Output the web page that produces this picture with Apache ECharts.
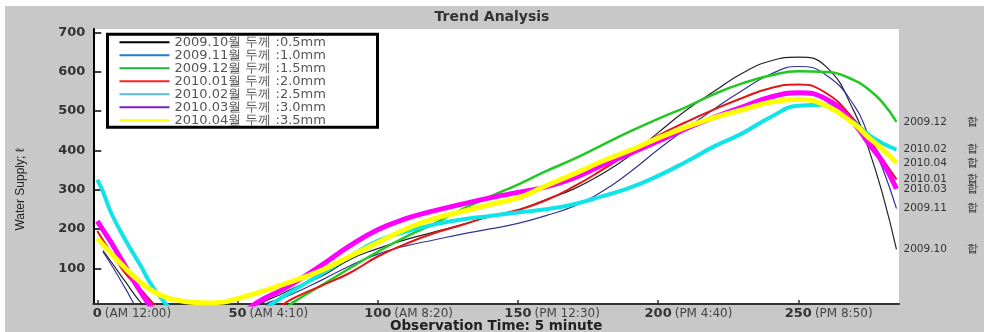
<!DOCTYPE html>
<html><head><meta charset="utf-8">
<script src="https://cdn.jsdelivr.net/npm/echarts@6/dist/echarts.min.js"></script>
<style>html,body{margin:0;padding:0;background:#fff}#main{width:984px;height:332px}</style>
</head><body><div id="main"></div>
<script>
// ---- data ----
const ts = [0,2,5,10,15,20,25,30,35,40,45,50,55,60,65,70,80,90,100,110,120,130,140,150,160,170,180,190,200,210,220,230,240,250,260,270,275,280,285];
const s2009_10 = [null,145,116,66,17,-22,-48,-62,-67,-63,-50,-32,-8,17,32,50,80,122,150,173,192,211,232,248,275,302,340,387,445,502,550,596,627,637,612,497,405,290,148];
const s2009_11 = [null,142,109,49,-10,-42,-62,-75,-78,-72,-60,-42,-18,9,22,36,70,106,136,157,172,187,200,214,234,258,295,345,402,455,505,552,593,613,591,513,438,355,252];
const s2009_12 = [215,195,160,100,45,0,-35,-62,-80,-90,-92,-85,-62,-38,-12,14,57,100,142,180,213,250,282,313,347,378,413,448,480,510,543,570,590,601,599,578,555,522,472];
const s2010_01 = [195,172,140,87,50,10,-22,-45,-60,-68,-70,-65,-52,-25,2,24,56,88,130,162,189,210,232,248,273,308,350,395,437,472,504,533,558,567,545,477,430,378,326];
const s2010_02 = [325,295,240,172,112,50,5,-35,-60,-72,-72,-60,-35,-2,22,44,86,130,170,193,211,224,233,242,250,263,283,305,335,371,410,443,484,513,516,470,440,418,402];
const s2010_03 = [220,198,165,105,45,-5,-40,-60,-70,-68,-55,-30,3,25,42,62,108,157,198,226,246,263,279,293,307,330,362,392,423,455,484,510,535,546,530,466,418,370,302];
const s2010_04 = [176,160,137,100,67,41,25,17,13,12,14,23,33,44,56,68,95,130,165,200,226,244,262,279,310,340,372,400,431,459,483,503,522,529,513,466,433,403,368];
const seriesValues = [s2009_10, s2009_11, s2009_12, s2010_01, s2010_02, s2010_03, s2010_04];
const seriesNames = ['2009.10월 두께 :0.5mm','2009.11월 두께 :1.0mm','2009.12월 두께 :1.5mm','2010.01월 두께 :2.0mm','2010.02월 두께 :2.5mm','2010.03월 두께 :3.0mm','2010.04월 두께 :3.5mm'];
const endNames = ['2009.10','2009.11','2009.12','2010.01','2010.02','2010.03','2010.04'];
const endSuffix = '합';
const xTickValues = [0,50,100,150,200,250];
const xTickTimes = ['(AM 12:00)','(AM 4:10)','(AM 8:20)','(PM 12:30)','(PM 4:40)','(PM 8:50)'];
const yTickValues = [100,200,300,400,500,600,700];
const titleText = 'Trend Analysis';
const xName = 'Observation Time: 5 minute';
const yName = 'Water Supply; ℓ';

// ---- styles ----
const FF = '"DejaVu Sans", sans-serif';
const lineColors = ['#222222','#33339a','#22c822','#e41414','#10e4e8','#ff00ff','#ffff00'];
const lineWidths = [1.2,1.2,2.5,2,4,5,5];
const legendColors = ['#000000','#1f7fd0','#1fb33a','#ff2020','#5ab8d8','#7a1fc0','#ffff00'];

const ctx = document.createElement('canvas').getContext('2d');
ctx.font = 'bold 13px "DejaVu Sans"';
const numRich = {};
xTickValues.forEach((v, i) => {
  const w = ctx.measureText(String(v)).width;
  numRich['p' + i] = {fontFamily: FF, fontSize: 12, color: '#444', padding: [0, 0, 0, w / 2 + 3]};
});

const chart = echarts.init(document.getElementById('main'));
const option = {
  animation: false,
  backgroundColor: '#ffffff',
  graphic: [{type: 'rect', z: -10, silent: true, shape: {x: 5, y: 6, width: 979, height: 326}, style: {fill: '#c8c8c8'}}],
  title: {text: titleText, left: 'center', top: 10, padding: 0,
    textStyle: {fontFamily: FF, fontSize: 14, fontWeight: 'bold', color: '#333'}},
  grid: {left: 93.3, right: 85, top: 29, bottom: 28, show: true, backgroundColor: '#fff', borderWidth: 0,
    containLabel: false, outerBoundsMode: 'none'},
  legend: {
    orient: 'vertical', left: 107.5, top: 34.2,
    padding: [1.5, 10, 0.5, 12],
    backgroundColor: '#fff', borderColor: '#000', borderWidth: 3,
    icon: 'rect', itemWidth: 50, itemHeight: 2, itemGap: 0, selectedMode: false,
    textStyle: {fontFamily: FF, fontSize: 13, color: '#555', lineHeight: 12.5, width: 193},
    data: seriesNames.map((n, i) => ({name: n, itemStyle: {color: legendColors[i], borderWidth: 0}}))
  },
  xAxis: [{
    type: 'value', min: -1.43, max: 285.9,
    name: xName, nameLocation: 'middle', nameGap: 15, nameMoveOverlap: false,
    nameTextStyle: {fontFamily: FF, fontSize: 13.5, fontWeight: 'bold', color: '#222'},
    axisLine: {show: true, onZero: false, lineStyle: {color: '#333', width: 2}},
    axisTick: {show: true, inside: true, length: 4, customValues: xTickValues, lineStyle: {color: '#333', width: 1.5}},
    axisLabel: {customValues: xTickValues, margin: 3, fontFamily: FF, fontSize: 13, fontWeight: 'bold', color: '#333'},
    splitLine: {show: false}
  }, {
    type: 'value', min: -1.43, max: 285.9, position: 'bottom', gridIndex: 0,
    axisLine: {show: false}, axisTick: {show: false}, splitLine: {show: false},
    axisLabel: {customValues: xTickValues, margin: 4, align: 'left',
      formatter: (v) => { const i = xTickValues.indexOf(v); return '{p' + i + '|' + xTickTimes[i] + '}'; },
      rich: numRich}
  }],
  yAxis: {
    type: 'value', min: 9.2, max: 708.4,
    name: yName, nameLocation: 'middle', nameGap: 67, nameRotate: 90, nameMoveOverlap: false,
    nameTextStyle: {fontFamily: '"Liberation Sans Narrow", "Arial Narrow", "Liberation Sans", sans-serif', fontSize: 12, color: '#222', padding: [0, 46, 0, 0]},
    axisLine: {show: true, onZero: false, lineStyle: {color: '#000', width: 2}},
    axisTick: {show: true, inside: true, length: 8, customValues: yTickValues, lineStyle: {color: '#000', width: 1.5}},
    axisLabel: {customValues: yTickValues, margin: 8, fontFamily: FF, fontSize: 13, fontWeight: 'bold', color: '#333'},
    splitLine: {show: false}
  },
  series: seriesValues.map((vals, i) => ({
    name: seriesNames[i], type: 'line', xAxisIndex: 0,
    data: ts.map((t, j) => [t, vals[j]]),
    symbol: 'none', showSymbol: false, smooth: 0.5, clip: true, z: 2 + i,
    lineStyle: {color: lineColors[i], width: lineWidths[i]},
    itemStyle: {color: lineColors[i]},
    endLabel: {show: true, distance: 7,
      formatter: () => '{n|' + endNames[i] + '}{k|' + endSuffix + '}',
      rich: {n: {fontFamily: FF, fontSize: 10.5, color: '#333'}, k: {fontFamily: FF, fontSize: 10.5, color: '#333', padding: [0, 0, 0, 20]}}}
  }))
};
chart.setOption(option);
</script></body></html>
